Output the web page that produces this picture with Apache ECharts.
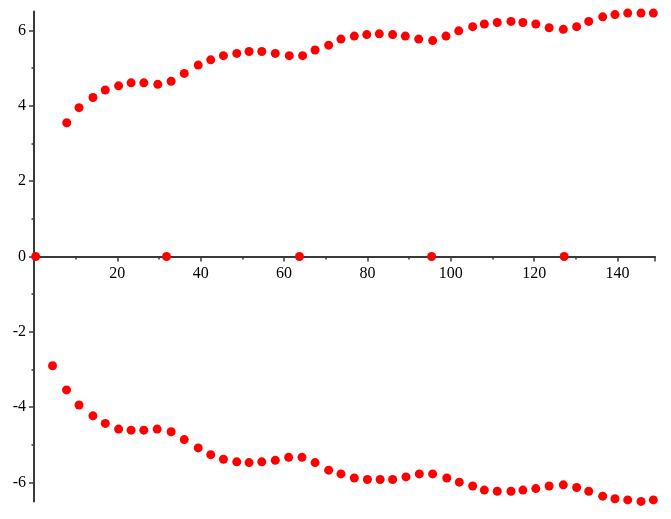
<!DOCTYPE html>
<html>
<head>
<meta charset="utf-8">
<script src="https://cdn.jsdelivr.net/npm/echarts@6/dist/echarts.min.js"></script>
<style>html,body{margin:0;padding:0;background:#fff}#c{width:671px;height:519px}</style>
</head>
<body>
<div id="c"></div>
<script>
var upperX = [7.85, 10.8, 14.15, 17.1, 20.3, 23.3, 26.35, 29.7, 32.9, 36.05, 39.4, 42.4, 45.45, 48.65, 51.6, 54.65, 57.9, 61.25, 64.45, 67.45, 70.7, 73.65, 76.85, 79.85, 82.85, 86.05, 89.1, 92.3, 95.65, 98.85, 101.9, 105.25, 108.05, 111.15, 114.45, 117.3, 120.4, 123.6, 127.0, 130.2, 133.1, 136.45, 139.4, 142.45, 145.65, 148.6];
var upperY = [3.55, 3.95, 4.22, 4.42, 4.53, 4.61, 4.61, 4.57, 4.65, 4.86, 5.08, 5.22, 5.33, 5.39, 5.44, 5.44, 5.39, 5.33, 5.33, 5.48, 5.61, 5.77, 5.85, 5.89, 5.91, 5.89, 5.85, 5.77, 5.73, 5.85, 5.99, 6.10, 6.17, 6.21, 6.24, 6.21, 6.17, 6.07, 6.03, 6.10, 6.24, 6.36, 6.42, 6.46, 6.46, 6.46];
var lowerX = [4.45, 7.8, 10.8, 14.15, 17.1, 20.3, 23.3, 26.35, 29.55, 32.9, 36.05, 39.4, 42.4, 45.45, 48.65, 51.6, 54.65, 57.9, 61.1, 64.3, 67.45, 70.7, 73.65, 76.85, 80.0, 83.05, 86.05, 89.25, 92.45, 95.65, 99.05, 102.05, 105.25, 108.05, 111.15, 114.45, 117.3, 120.4, 123.6, 127.0, 130.2, 133.1, 136.45, 139.4, 142.45, 145.65, 148.6];
var lowerY = [-2.90, -3.54, -3.94, -4.23, -4.43, -4.58, -4.61, -4.61, -4.58, -4.65, -4.86, -5.08, -5.26, -5.38, -5.45, -5.47, -5.45, -5.41, -5.33, -5.33, -5.47, -5.67, -5.77, -5.88, -5.92, -5.92, -5.92, -5.85, -5.77, -5.77, -5.88, -5.99, -6.09, -6.20, -6.23, -6.23, -6.20, -6.16, -6.09, -6.06, -6.13, -6.23, -6.36, -6.43, -6.46, -6.50, -6.46];
var zeroX = [0.4, 31.8, 63.7, 95.4, 127.2];
var zeroY = [0, 0, 0, 0, 0];
var xLabels = [20, 40, 60, 80, 100, 120, 140];
var yMajorTicks = [-6, -4, -2, 0, 2, 4, 6];
var yMinorTicks = [-5, -3, -1, 1, 3, 5];

function pairs(xs, ys) { return xs.map(function (x, i) { return [x, ys[i]]; }); }

var W = 671, H = 519;
var gridTop = 11.6, gridBottom = 17.6;
var yMin = -6.5, yMax = 6.5;
var plotH = H - gridTop - gridBottom;
// place the x axis at y = 0 by offsetting it up from the bottom edge
var xOffset = -plotH * (0 - yMin) / (yMax - yMin);

var axisColor = '#3a3a3a';
var fontFam = '"Liberation Serif", "DejaVu Serif", serif';
var chart = echarts.init(document.getElementById('c'), null, { renderer: 'canvas' });
var sym = { color: '#ff0000', opacity: 1 };
chart.setOption({
  animation: false,
  grid: { left: 34, right: 16, top: gridTop, bottom: gridBottom, containLabel: false },
  xAxis: {
    type: 'value', min: 0, max: 149, interval: 20, position: 'bottom', offset: xOffset,
    axisLine: { show: true, onZero: false, lineStyle: { color: axisColor, width: 2 } },
    axisTick: { show: true, length: 5, inside: false, lineStyle: { color: axisColor, width: 1.5 } },
    minorTick: { show: true, splitNumber: 2, length: 3, lineStyle: { color: axisColor, width: 1.5 } },
    splitLine: { show: false },
    axisLabel: {
      color: '#000', fontFamily: fontFam, fontSize: 16, margin: 9,
      customValues: xLabels,
      formatter: function (v) { return String(v); }
    }
  },
  yAxis: [{
    type: 'value', min: yMin, max: yMax, position: 'left',
    axisLine: { show: true, onZero: false, lineStyle: { color: axisColor, width: 2 } },
    axisTick: { show: true, length: 5, customValues: yMajorTicks, lineStyle: { color: axisColor, width: 1.5 } },
    splitLine: { show: false },
    axisLabel: {
      color: '#000', fontFamily: fontFam, fontSize: 16, margin: 8, customValues: yMajorTicks,
      formatter: function (v) { return String(v); }
    }
  }, {
    type: 'value', min: yMin, max: yMax, position: 'left',
    axisLine: { show: false, onZero: false },
    axisTick: { show: true, length: 2.5, customValues: yMinorTicks, lineStyle: { color: axisColor, width: 1.5 } },
    splitLine: { show: false },
    axisLabel: { show: false }
  }],
  series: [
    { type: 'scatter', yAxisIndex: 0, data: pairs(upperX, upperY), symbolSize: 9, itemStyle: sym, clip: false },
    { type: 'scatter', yAxisIndex: 0, data: pairs(lowerX, lowerY), symbolSize: 9, itemStyle: sym, clip: false },
    { type: 'scatter', yAxisIndex: 0, data: pairs(zeroX, zeroY), symbolSize: 9, itemStyle: sym, clip: false }
  ]
});
</script>
</body>
</html>
